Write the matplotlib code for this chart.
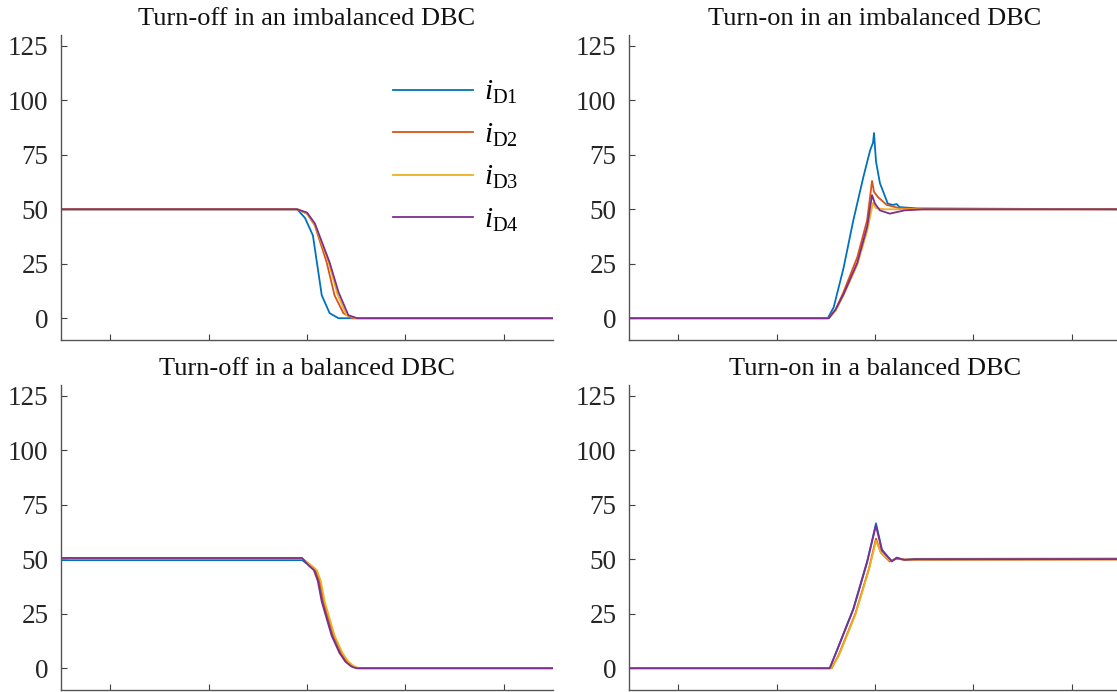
import numpy as np
import matplotlib
matplotlib.use('Agg')
import matplotlib.pyplot as plt

plt.rcParams['font.family'] = ['Liberation Serif', 'DejaVu Serif']
plt.rcParams['mathtext.fontset'] = 'custom'
plt.rcParams['mathtext.rm'] = 'Liberation Serif'
plt.rcParams['mathtext.it'] = 'Liberation Serif:italic'

colors = ['#0072BD', '#D95319', '#EDB120', '#7E2F8E']
labels = [r'$i_{\mathrm{D1}}$', r'$i_{\mathrm{D2}}$', r'$i_{\mathrm{D3}}$', r'$i_{\mathrm{D4}}$']
titles = ['Turn-off in an imbalanced DBC', 'Turn-on in an imbalanced DBC',
          'Turn-off in a balanced DBC', 'Turn-on in a balanced DBC']
yticks = [0, 25, 50, 75, 100, 125]
xticks = [50, 150, 250, 350, 450]

# turn-off, imbalanced DBC (time in ns, current in A)
t_off_imb_1 = [0, 240, 248, 256, 265, 273, 282, 500]
i_off_imb_1 = [50, 50, 46, 38, 10.5, 2.3, 0, 0]
t_off_imb_2 = [0, 240, 250, 258, 270, 278, 287, 296, 500]
i_off_imb_2 = [50, 50, 48, 42.6, 25.6, 10.5, 2.3, 0, 0]
t_off_imb_3 = [0, 240, 250, 258, 272, 281, 290, 299, 500]
i_off_imb_3 = [50, 50, 48, 43, 25.6, 11, 1.5, 0, 0]
t_off_imb_4 = [0, 240, 250, 258, 273, 282, 292, 301, 500]
i_off_imb_4 = [50, 50, 48.5, 43.5, 25.6, 12, 1.4, 0, 0]

# turn-on, imbalanced DBC
t_on_imb_1 = [0, 202, 208, 218, 228, 238, 245, 248, 249, 251, 255, 263, 268, 272, 275, 293, 500]
i_on_imb_1 = [0, 0, 5, 23, 45, 64.5, 77, 80.6, 85, 72, 62, 52.6, 52, 52.4, 51, 50.4, 50]
t_on_imb_2 = [0, 203, 210, 218, 232, 242, 247, 249, 253, 262, 275, 300, 500]
i_on_imb_2 = [0, 0, 4, 12, 28, 45, 63, 58, 55.6, 52, 50.5, 50, 50]
t_on_imb_3 = [0, 203, 210, 218, 232, 242, 248, 251, 260, 500]
i_on_imb_3 = [0, 0, 3.5, 10.5, 24.5, 40, 53, 50.5, 50, 50]
t_on_imb_4 = [0, 203, 210, 218, 232, 242, 247, 250, 255, 265, 280, 300, 500]
i_on_imb_4 = [0, 0, 4, 11, 25.5, 42, 56.5, 52.6, 49.5, 48, 49.5, 50, 50]

# turn-off, balanced DBC
t_off_bal_1 = [0, 245, 253, 258, 262, 266, 276, 284, 290, 296, 301, 500]
i_off_bal_1 = [49.6, 49.6, 47, 45, 40, 30.5, 15, 7, 3, 0.8, 0, 0]
t_off_bal_2 = [0, 245, 254, 259, 263, 267, 277, 285, 291, 297, 302, 500]
i_off_bal_2 = [50.3, 50.3, 47, 45, 40, 30.5, 15, 7, 3, 0.8, 0, 0]
t_off_bal_3 = [0, 245, 255, 260, 264, 268, 278, 286, 292, 298, 303, 500]
i_off_bal_3 = [50.4, 50.4, 47, 45, 40, 30.5, 15, 7, 3, 0.8, 0, 0]
t_off_bal_4 = [0, 245, 252, 257, 261, 265, 275, 283, 289, 295, 300, 500]
i_off_bal_4 = [50.6, 50.6, 47, 45, 40, 30.5, 15, 7, 3, 0.8, 0, 0]

# turn-on, balanced DBC
t_on_bal_1 = [0, 204, 211, 228, 242, 251, 257, 267, 272, 280, 290, 500]
i_on_bal_1 = [0, 0, 7.7, 27, 48.6, 66.5, 54.5, 49, 50.8, 49.7, 50.2, 50.3]
t_on_bal_2 = [0, 206, 213, 230, 244, 251, 256, 265, 272, 280, 500]
i_on_bal_2 = [0, 0, 6, 25, 46, 59.5, 53, 49, 50.3, 49.8, 49.9]
t_on_bal_3 = [0, 206, 213, 230, 244, 251, 256, 265, 272, 280, 500]
i_on_bal_3 = [0, 0, 5.5, 24.5, 45.5, 58.5, 53, 49.5, 50.2, 49.9, 50]
t_on_bal_4 = [0, 204, 211, 228, 242, 251, 257, 267, 272, 280, 290, 500]
i_on_bal_4 = [0, 0, 7.9, 27.3, 49, 65.5, 54, 49.2, 50.5, 49.8, 50, 50.1]

panels = [
    [(t_off_imb_1, i_off_imb_1), (t_off_imb_2, i_off_imb_2), (t_off_imb_3, i_off_imb_3), (t_off_imb_4, i_off_imb_4)],
    [(t_on_imb_1, i_on_imb_1), (t_on_imb_2, i_on_imb_2), (t_on_imb_3, i_on_imb_3), (t_on_imb_4, i_on_imb_4)],
    [(t_off_bal_1, i_off_bal_1), (t_off_bal_2, i_off_bal_2), (t_off_bal_3, i_off_bal_3), (t_off_bal_4, i_off_bal_4)],
    [(t_on_bal_1, i_on_bal_1), (t_on_bal_2, i_on_bal_2), (t_on_bal_3, i_on_bal_3), (t_on_bal_4, i_on_bal_4)],
]

fig = plt.figure(figsize=(11.17, 6.92), dpi=100)
W, H = 1117.0, 692.0
boxes = [(61, 35), (629, 35), (61, 385), (629, 385)]
axw, axh = 492, 305

for k, (x0, y0) in enumerate(boxes):
    ax = fig.add_axes([x0 / W, 1 - (y0 + axh) / H, axw / W, axh / H])
    for (t, i), c, lab in zip(panels[k], colors, labels):
        ax.plot(t, i, color=c, lw=1.3, label=lab)
    ax.set_xlim(0, 500)
    ax.set_ylim(-10, 130)
    ax.set_xticks(xticks)
    ax.set_xticklabels([])
    ax.set_yticks(yticks)
    ax.tick_params(direction='in', length=4, width=0.8, color='#404040',
                   labelsize=19.5, labelcolor='#262626', pad=9)
    for s in ['top', 'right']:
        ax.spines[s].set_visible(False)
    for s in ['left', 'bottom']:
        ax.spines[s].set_color('#555555')
        ax.spines[s].set_linewidth(1.0)
    ax.set_title(titles[k], fontsize=19, color='#111111', pad=7)
    if k == 0:
        ax.legend(loc='upper left', bbox_to_anchor=(0.675, 0.855), frameon=False,
                  fontsize=21, handlelength=2.75, handletextpad=0.35,
                  labelspacing=0.52, borderpad=0, borderaxespad=0)

fig.savefig('out.png', dpi=100)
